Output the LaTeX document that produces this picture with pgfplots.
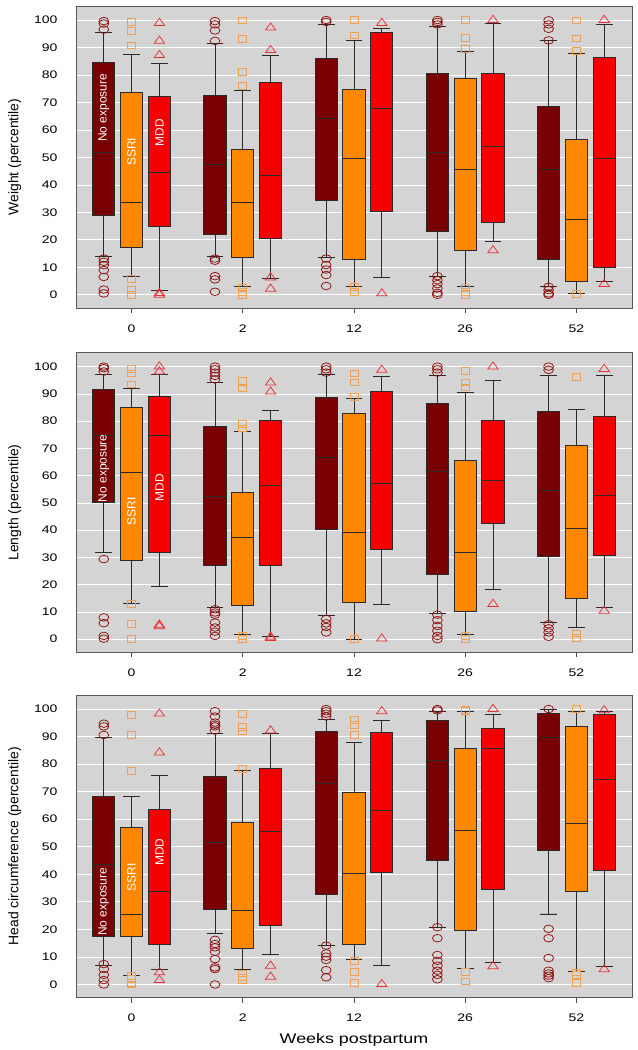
\documentclass[border=0pt]{standalone}
\usepackage{fontspec}
\setmainfont{Liberation Sans}[FakeStretch=1.28]
\newfontfamily\rotfont{Liberation Sans}
\usepackage{pgfplots}
\pgfplotsset{compat=1.18}
\usepgfplotslibrary{statistics}
\definecolor{cNo}{HTML}{780000}
\definecolor{cSS}{HTML}{FF8800}
\definecolor{cMD}{HTML}{F50000}
\definecolor{oNo}{HTML}{8E1010}
\definecolor{oSS}{HTML}{F0A050}
\definecolor{oMD}{HTML}{E8303A}
\definecolor{bg}{HTML}{D4D4D4}
\definecolor{edge}{HTML}{2A2A2A}

\tikzset{boxlab/.style={rotate=90, text=white, font=\rotfont\fontsize{12}{14}\selectfont, inner sep=0pt}}
\pgfplotsset{
  noexp/.style={draw=edge, fill=cNo, line width=0.9pt, mark=o, mark size=3.8,
    mark options={draw=oNo, fill=none, xscale=1.3, line width=0.75pt, solid}},
  ssri/.style={draw=edge, fill=cSS, line width=0.9pt, mark=square, mark size=3.4,
    mark options={draw=oSS, fill=none, xscale=1.2, line width=0.75pt, solid}},
  mdd/.style={draw=edge, fill=cMD, line width=0.9pt, mark=triangle, mark size=4.8,
    mark options={draw=oMD, fill=none, xscale=1.25, line width=0.75pt, solid}},
  myaxis/.style={
    scale only axis, width=556bp,
    xmin=0.5, xmax=5.5, ymin=-4.8, ymax=105.1,
    xtick={1,2,3,4,5}, xticklabels={0,2,12,26,52},
    ytick={0,10,...,100},
    ymajorgrids, grid style={white, line width=0.7pt},
    axis background/.style={fill=bg},
    axis line style={black!65, line width=0.9pt},
    tick align=outside, xtick pos=bottom, ytick pos=left,
    major tick length=5bp,
    ytick style={draw=none},
    xtick style={black!70, line width=0.8pt},
    /pgf/number format/assume math mode=true,
    tick label style={font=\fontsize{11}{13}\selectfont},
    xticklabel style={yshift=-8bp}, yticklabel style={xshift=-10bp},
    ylabel style={font=\rotfont\fontsize{14}{16}\selectfont, at={(axis description cs:-0.11,0.5)}, anchor=center},
    boxplot/draw direction=y,
    boxplot/box extend=0.2, boxplot/whisker extend=0.15,
  },
}

% \bx{position}{lower whisker}{lower quartile}{median}{upper quartile}{upper whisker}{style}{outliers}
\newcommand{\bx}[8]{%
  \addplot[#7, boxplot prepared={draw position=#1, lower whisker=#2, lower quartile=#3,
    median=#4, upper quartile=#5, upper whisker=#6}]
    table[row sep=\\, y index=0]{v\\#8};
}

\begin{document}
\begin{tikzpicture}
\path[use as bounding box] (0,0) rectangle (638bp,1050bp);

% ---------------- Weight ----------------
\begin{axis}[myaxis, at={(76bp,742bp)}, anchor=south west, height=302bp,
  ylabel={Weight (percentile)}]
\bx{0.75}{13.8}{28.7}{51.9}{84.7}{95.5}{noexp}{99.6\\98.7\\96.5\\13.2\\12\\10.8\\9\\6.5\\1.9\\0.5\\}
\bx{1}{6.5}{17.2}{33.7}{73.7}{87.4}{ssri}{99.4\\96\\90.8\\5.8\\1.7\\0\\}
\bx{1.25}{1.5}{24.8}{44.7}{72.1}{84.2}{mdd}{98.9\\92.4\\87.2\\0.6\\0\\}
\bx{1.75}{13.8}{22.1}{47.4}{72.6}{91.3}{noexp}{99.6\\98.4\\96.2\\92.4\\13.2\\12.4\\6.8\\5.6\\1.1\\}
\bx{2}{2.9}{13.5}{33.7}{53}{74.3}{ssri}{99.9\\93.2\\81.1\\75.9\\2.7\\1.1\\0\\}
\bx{2.25}{5.9}{20.6}{43.4}{77.1}{87.2}{mdd}{97.2\\89\\6.3\\2.2\\}
\bx{2.75}{13.6}{34.4}{64}{86.1}{98.4}{noexp}{100\\99.3\\13.2\\10.8\\9.2\\7.2\\3.2\\}
\bx{3}{3.2}{13}{49.6}{74.7}{92.5}{ssri}{100\\94.4\\2.9\\1.1\\}
\bx{3.25}{6.3}{30.2}{67.8}{95.3}{97}{mdd}{98.9\\0.5\\}
\bx{3.75}{6.8}{22.9}{51.8}{80.5}{97.5}{noexp}{100\\99.3\\98.4\\6.8\\5.3\\3.9\\2.3\\0.7\\0\\}
\bx{4}{2.9}{16.2}{45.7}{78.8}{88.7}{ssri}{100\\93.5\\89.6\\2.7\\1.1\\0\\}
\bx{4.25}{19.5}{26.5}{54.1}{80.7}{98.7}{mdd}{100\\16.2\\}
\bx{4.75}{2.9}{12.8}{45.7}{68.6}{92.6}{noexp}{99.9\\98.4\\96.8\\92.6\\2.9\\1.7\\0.5\\0\\}
\bx{5}{0.5}{4.7}{27.5}{56.5}{88}{ssri}{99.9\\93.3\\88.7\\0.2\\}
\bx{5.25}{5}{9.8}{49.6}{86.3}{98.4}{mdd}{100\\3.9\\}
\node[boxlab] at (axis cs:0.75,68) {No exposure};
\node[boxlab] at (axis cs:1,52) {SSRI};
\node[boxlab] at (axis cs:1.25,59) {MDD};
\end{axis}

% ---------------- Length ----------------
\begin{axis}[myaxis, at={(76bp,397.7bp)}, anchor=south west, height=299.6bp,
  ylabel={Length (percentile)}]
\bx{0.75}{31.7}{50.1}{74.8}{91.8}{97.2}{noexp}{100\\99.4\\98.2\\29.4\\8\\5.9\\1.2\\0.2\\}
\bx{1}{13.1}{28.8}{61.1}{85}{92}{ssri}{99.1\\97.5\\93.5\\12.9\\5.5\\0\\}
\bx{1.25}{19.3}{31.7}{74.8}{89}{97.2}{mdd}{100\\98.2\\5.3\\4.7\\}
\bx{1.75}{11.7}{26.9}{52.4}{77.9}{94.2}{noexp}{100\\99\\97.8\\96.6\\95.3\\11\\9.8\\9\\6.1\\4.3\\2.8\\1.2\\}
\bx{2}{1.6}{12.5}{37.5}{53.9}{76.1}{ssri}{94.8\\92\\78.9\\77.3\\1.2\\0\\}
\bx{2.25}{1.1}{27.1}{56.4}{80.4}{83.8}{mdd}{94.1\\90.8\\0.9\\0.4\\}
\bx{2.75}{8.6}{40.1}{66.6}{88.7}{97.3}{noexp}{100\\99\\97.8\\7.4\\5.8\\4.5\\2.5\\}
\bx{3}{0}{13.5}{39.3}{82.7}{88.3}{ssri}{97.5\\94.2\\89\\0\\}
\bx{3.25}{12.9}{33.1}{57.3}{91}{96.3}{mdd}{98.8\\0.2\\}
\bx{3.75}{9.4}{23.9}{61.7}{86.3}{96.9}{noexp}{100\\99\\97.8\\9\\7\\4.9\\3.1\\1.2\\0\\}
\bx{4}{1.6}{10.1}{31.9}{65.4}{90.4}{ssri}{98.5\\94.2\\92.4\\1.2\\0\\}
\bx{4.25}{18.2}{42.6}{58.3}{80.1}{94.8}{mdd}{100\\12.9\\}
\bx{4.75}{6.1}{30.2}{54.4}{83.7}{96.8}{noexp}{100\\98.8\\5.5\\4\\2.5\\0.9\\}
\bx{5}{4.3}{15.1}{40.8}{70.9}{84.2}{ssri}{96.3\\2.1\\0.6\\}
\bx{5.25}{11.7}{30.7}{52.6}{81.6}{96.7}{mdd}{99.1\\10.4\\}
\node[boxlab] at (axis cs:0.75,62.7) {No exposure};
\node[boxlab] at (axis cs:1,47) {SSRI};
\node[boxlab] at (axis cs:1.25,55.5) {MDD};
\end{axis}

% ---------------- Head circumference ----------------
\begin{axis}[myaxis, at={(76bp,52.3bp)}, anchor=south west, height=302.7bp,
  ylabel={Head circumference (percentile)},
  xlabel={Weeks postpartum},
  xlabel style={font=\fontsize{14}{16}\selectfont, at={(axis description cs:0.5,-0.139)}, anchor=center}]
\bx{0.75}{7}{17.5}{43.5}{68.2}{89.8}{noexp}{94.7\\93.7\\90.6\\7.4\\5.6\\3.5\\1.6\\0\\}
\bx{1}{3.3}{17.5}{25.4}{57}{68.3}{ssri}{97.9\\90.5\\77.6\\3.2\\1.9\\0.7\\0\\}
\bx{1.25}{5.3}{14.5}{33.8}{63.7}{75.9}{mdd}{98.3\\84.2\\4.4\\1.6\\}
\bx{1.75}{18.6}{27.1}{51.4}{75.5}{91}{noexp}{99.2\\97.3\\95.1\\94.3\\93.7\\92.2\\16.2\\14.7\\13.5\\11.9\\9.2\\6.2\\5.6\\0\\}
\bx{2}{5.3}{13.2}{26.9}{58.7}{77.8}{ssri}{98.2\\93.4\\91.9\\78.4\\4\\2.6\\1.6\\}
\bx{2.25}{10.9}{21.4}{55.4}{78.3}{91}{mdd}{92.2\\6.8\\2.8\\}
\bx{2.75}{14.1}{32.8}{73}{92}{96.1}{noexp}{100\\99.2\\98.3\\97.3\\14.1\\11.3\\10.1\\8.9\\5.2\\2.6\\}
\bx{3}{9.1}{14.5}{40.3}{69.9}{87.7}{ssri}{96.1\\94.3\\90.6\\8.6\\4.6\\0.7\\}
\bx{3.25}{6.9}{40.8}{63.3}{91.5}{95.9}{mdd}{99.2\\0.1\\}
\bx{3.75}{20.8}{45.1}{81.3}{95.7}{99.2}{noexp}{100\\99.5\\20.8\\16.8\\10.7\\8.6\\6.8\\5\\3.5\\1.9\\}
\bx{4}{5.8}{19.7}{56}{85.7}{99.2}{ssri}{99.8\\99.2\\4.7\\1.1\\}
\bx{4.25}{7.9}{34.4}{85.8}{93.1}{97.9}{mdd}{100\\6.6\\}
\bx{4.75}{25.6}{48.7}{89.8}{98.3}{100}{noexp}{100\\20.2\\16.8\\9.6\\5\\4\\3.2\\2.3\\}
\bx{5}{4.7}{33.9}{58.4}{93.7}{99.2}{ssri}{100\\4.4\\3.5\\0.7\\}
\bx{5.25}{6.4}{41.4}{74.5}{98.2}{99.2}{mdd}{99.5\\5.5\\}
\node[boxlab] at (axis cs:0.75,30) {No exposure};
\node[boxlab] at (axis cs:1,39) {SSRI};
\node[boxlab] at (axis cs:1.25,48) {MDD};
\end{axis}
\end{tikzpicture}
\end{document}
